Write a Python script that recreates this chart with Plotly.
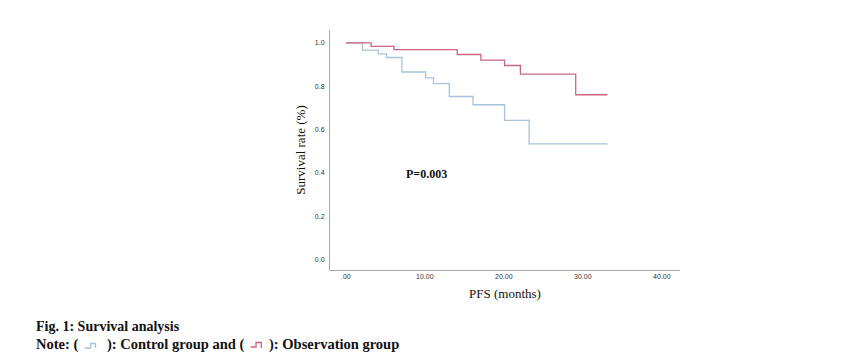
import plotly.graph_objects as go

# Data (Kaplan-Meier steps)
obs_time = [0, 3.2, 6.1, 14.1, 17.1, 20.1, 22.1, 29.1, 33.1]
obs_surv = [1.0, 0.983, 0.968, 0.946, 0.920, 0.895, 0.855, 0.760, 0.760]
ctrl_time = [0, 2.1, 4.1, 5.15, 7.1, 10.1, 11.1, 13.1, 16.1, 20.1, 23.2, 33.1]
ctrl_surv = [1.0, 0.966, 0.949, 0.932, 0.865, 0.838, 0.811, 0.752, 0.714, 0.642, 0.533, 0.533]

x_tickvals = [0, 10, 20, 30, 40]
x_ticktext = [".00", "10.00", "20.00", "30.00", "40.00"]
y_tickvals = [0.0, 0.2, 0.4, 0.6, 0.8, 1.0]
y_ticktext = ["0.0", "0.2", "0.4", "0.6", "0.8", "1.0"]

ctrl_color = "#a6c3db"
obs_color = "#cc6480"

fig = go.Figure()
fig.add_trace(go.Scatter(x=ctrl_time, y=ctrl_surv, mode="lines",
                         line=dict(color=ctrl_color, width=1.3, shape="hv"),
                         name="Control group", showlegend=False))
fig.add_trace(go.Scatter(x=obs_time, y=obs_surv, mode="lines",
                         line=dict(color=obs_color, width=1.3, shape="hv"),
                         name="Observation group", showlegend=False))

serif = "Liberation Serif, Times New Roman, serif"
sans = "Liberation Sans, Arial, sans-serif"

# page has an 8px body margin, so figure coords = screen coords - 8
OFF = 8
fig.update_layout(
    width=850, height=352,
    margin=dict(l=330 - OFF, r=178, t=30 - OFF, b=90),
    paper_bgcolor="white", plot_bgcolor="white",
    xaxis=dict(range=[-2.0, 42.3], tickvals=x_tickvals, ticktext=x_ticktext,
               showgrid=False, zeroline=False, showline=True, linecolor="#aaaaaa",
               linewidth=1, ticks="", tickfont=dict(family=sans, size=7, color="#333"),
               title=dict(text="PFS (months)", font=dict(family=serif, size=13, color="#111"),
                          standoff=9)),
    yaxis=dict(range=[-0.049, 1.059], tickvals=y_tickvals, ticktext=y_ticktext,
               showgrid=False, zeroline=False, showline=True, linecolor="#aaaaaa",
               linewidth=1, ticks="", ticklabelstandoff=3,
               tickfont=dict(family=sans, size=7, color="#333"),
               title=dict(text="Survival rate (%)", font=dict(family=serif, size=13, color="#111"),
                          standoff=6)),
)

fig.add_annotation(x=10.25, y=0.394, xref="x", yref="y", text="<b>P=0.003</b>",
                   showarrow=False, font=dict(family=serif, size=12, color="#111"))

def px_x(px):
    return (px - 330) / 350.0

def px_y(py):
    return (270 - py) / 240.0

def caption(x, y, text, anchor="left", size=14):
    fig.add_annotation(x=px_x(x), y=px_y(y), xref="paper", yref="paper", xanchor=anchor,
                       yanchor="middle", showarrow=False, align="left",
                       text="<b>" + text + "</b>",
                       font=dict(family=serif, size=size, color="#111"))

caption(34, 326, "Fig. 1: Survival analysis")
caption(34, 344, "Note: (", size=14.5)
caption(246, 344, "): Control group and (", anchor="right", size=14.5)
caption(401, 344, "): Observation group", anchor="right", size=14.5)

# small legend icons in the note
def icon(pts, color):
    path = "M " + " L ".join(f"{px_x(a):.5f},{px_y(b):.5f}" for a, b in pts)
    fig.add_shape(type="path", path=path, xref="paper", yref="paper",
                  line=dict(color=color, width=1.3))

icon([(84.7, 348), (90.7, 348), (90.7, 343.5), (95.5, 343.5), (95.5, 348)], ctrl_color)
icon([(250.7, 347), (256, 347), (256, 342.5), (261.3, 342.5), (261.3, 348)], obs_color)

fig.write_html("out.html")
